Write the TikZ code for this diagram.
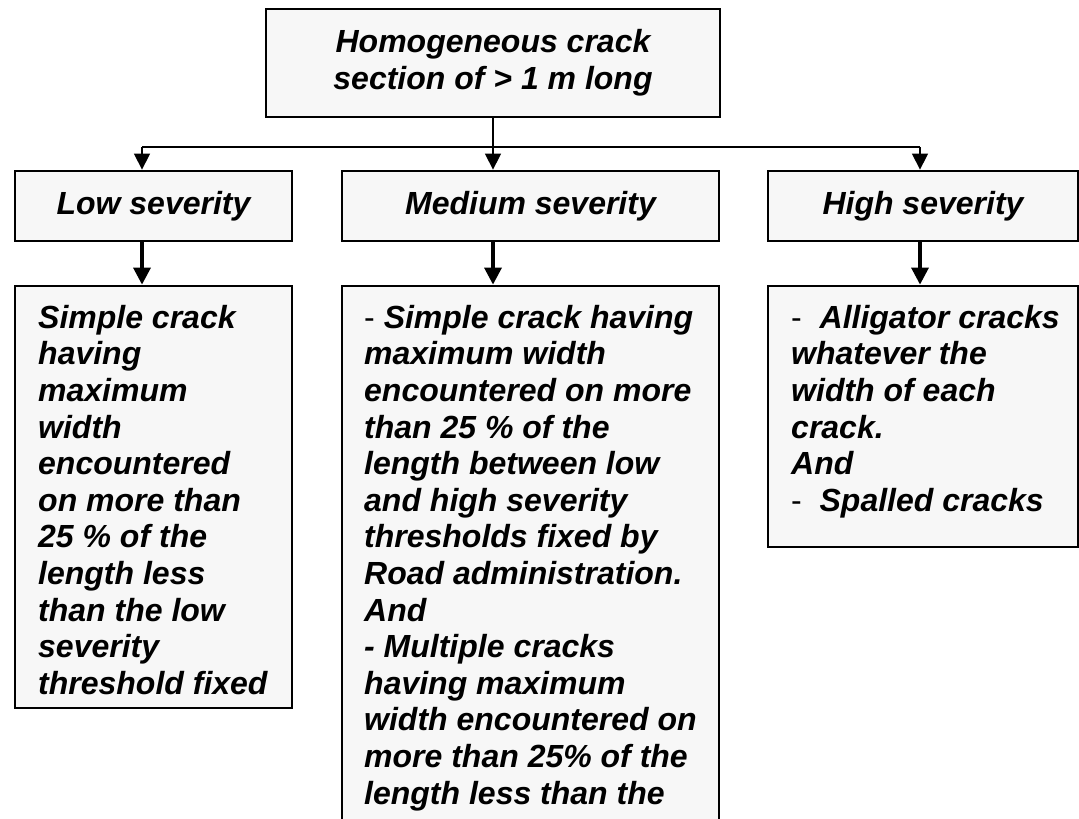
\documentclass[tikz,border=0pt]{standalone}
\usepackage{fontspec}
\setmainfont{Liberation Sans}
\usetikzlibrary{arrows.meta}
\definecolor{boxgray}{HTML}{F7F7F7}
\newcommand{\thindash}{{\mdseries\upshape -}}

\begin{document}
\begin{tikzpicture}
[
x=1pt, y=-1pt,
cbox/.style={rectangle, draw=black, fill=boxgray, line width=2.8pt, inner sep=0pt, align=center, font=\bfseries\itshape\fontsize{32}{36.6}\selectfont},
ctext/.style={inner sep=0pt, anchor=north west, align=left, font=\bfseries\itshape\fontsize{32}{36.6}\selectfont},
bus/.style={line width=1.4pt},
thinarrow/.style={line width=1.4pt, -{Triangle[width=16pt,length=16pt]}},
thickarrow/.style={line width=3.4pt, -{Triangle[width=17pt,length=17pt]}},
]
\path[use as bounding box] (0,0) rectangle (1079,819);
\clip (0,0) rectangle (1079,819);

\node at (493,63) [cbox, minimum width=454, minimum height=108] (crack) {Homogeneous crack\\section of > 1 m long};

\node at (153.5,206) [cbox, minimum width=277, minimum height=70] (lowsev) {Low severity};
\node at (530.5,206) [cbox, minimum width=377, minimum height=70] (medsev) {Medium severity};
\node at (923,206) [cbox, minimum width=310, minimum height=70] (highsev) {High severity};

\node at (153.5,497) [cbox, minimum width=277, minimum height=422] (lowdef) {};
\node at (530.5,566) [cbox, minimum width=377, minimum height=560] (meddef) {};
\node at (923,416.5) [cbox, minimum width=310, minimum height=261] (highdef) {};

\node at (38,305) [ctext] (lowtxt) {Simple crack\\having\\maximum\\width\\encountered\\on more than\\25 \% of the\\length less\\than the low\\severity\\threshold fixed};
\node at (364,305) [ctext] (medtxt) {\thindash\ Simple crack having\\maximum width\\encountered on more\\than 25 \% of the\\length between low\\and high severity\\thresholds fixed by\\Road administration.\\And\\- Multiple cracks\\having maximum\\width encountered on\\more than 25\% of the\\length less than the};
\node at (791,305) [ctext] (hightxt) {\thindash\ \ Alligator cracks\\whatever the\\width of each\\crack.\\And\\\thindash\ \ Spalled cracks};

\coordinate (busL) at (142,147);
\coordinate (busR) at (920,147);
\draw[bus] (busL) -- (busR);
\draw[thinarrow] (crack.south) -- (crack.south |- medsev.north);
\draw[thinarrow] (busL) -- (busL |- lowsev.north);
\draw[thinarrow] (busR) -- (busR |- highsev.north);

\draw[thickarrow] (busL |- lowsev.south) -- (busL |- lowdef.north);
\draw[thickarrow] (crack.south |- medsev.south) -- (crack.south |- meddef.north);
\draw[thickarrow] (busR |- highsev.south) -- (busR |- highdef.north);
\end{tikzpicture}
\end{document}
